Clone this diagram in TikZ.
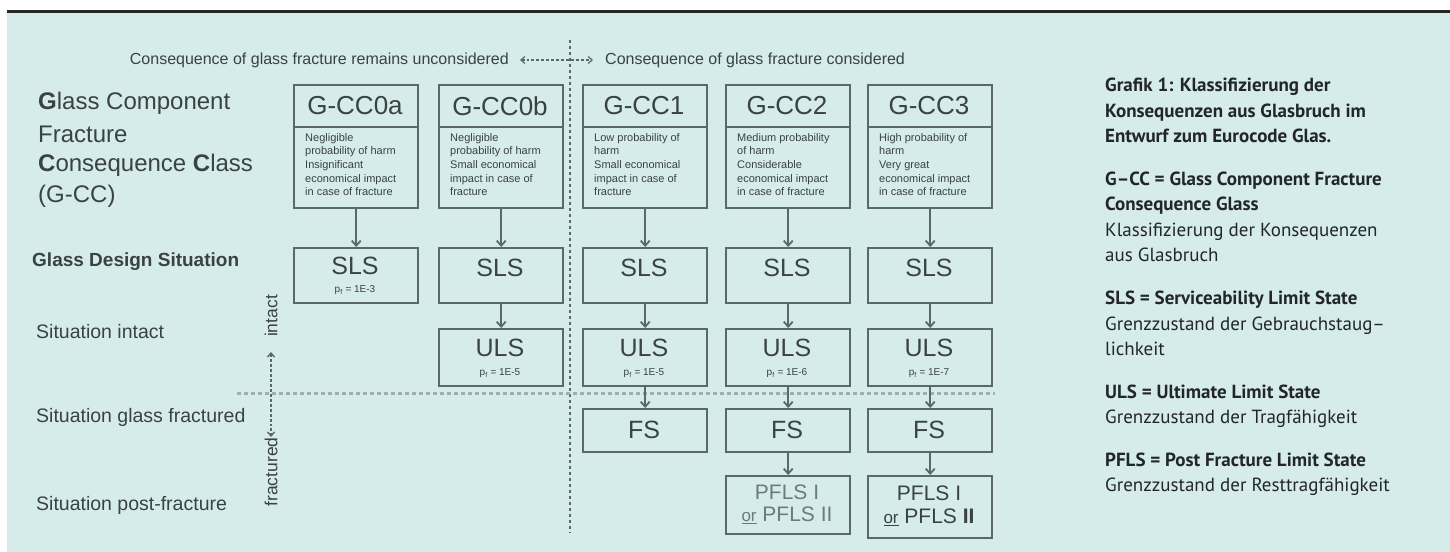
\documentclass[tikz,border=0pt]{standalone}
\usepackage{fontspec}
\setmainfont{Liberation Sans}
\newfontfamily\rtfont{PT Sans}
\usetikzlibrary{arrows.meta}
\definecolor{bg}{RGB}{214,236,234}
\definecolor{boxc}{RGB}{92,104,104}
\definecolor{pflc}{RGB}{110,122,122}
\definecolor{txt}{RGB}{58,66,66}
\definecolor{dotc}{RGB}{160,174,173}
\definecolor{rtxt}{RGB}{35,38,40}
\newcommand{\myfs}[1]{\fontsize{#1bp}{1.2\dimexpr #1bp\relax}\selectfont}
\begin{document}
\begin{tikzpicture}[x=1bp,y=-1bp,
  box/.style={draw=boxc, line width=2.4bp, inner sep=0pt, anchor=north west, minimum width=124bp},
  arr/.style={draw=boxc, line width=1.8bp, -{Straight Barb[length=5bp,width=9bp]}},
  title/.style={font=\myfs{26}, text=txt, inner sep=0pt},
  big/.style={font=\myfs{25}, text=txt, inner sep=0pt},
  sub/.style={font=\myfs{10}, text=txt, inner sep=0pt},
  pfl/.style={font=\myfs{21}, text=pflc, inner sep=0pt},
  desc/.style={font={\fontsize{11bp}{13.7bp}\selectfont}, text=txt, align=left, anchor=north west, inner sep=0pt},
  lab/.style={font=\myfs{19.5}, text=txt, anchor=west, inner sep=0pt},
  biglab/.style={font=\myfs{24}, text=txt, anchor=west, inner sep=0pt},
  head/.style={font=\myfs{16}, text=txt, inner sep=0pt},
  vlab/.style={font=\myfs{17.5}, text=txt, inner sep=0pt, rotate=90},
  rt/.style={font=\rtfont\myfs{19}, text=rtxt, anchor=base west, inner sep=0pt},
  rtb/.style={font=\rtfont\bfseries\myfs{19}, text=rtxt, anchor=base west, inner sep=0pt}
]
\useasboundingbox (0,0) rectangle (1450,552);
\fill[white] (0,0) rectangle (1450,552);
\fill[bg] (7,12) rectangle (1450,552);
\draw[line width=3bp, black!85] (7,12) -- (1450,12);

% header
\node[head, anchor=east] (hleft) at (509,60) {Consequence of glass fracture remains unconsidered};
\node[head, anchor=west] (hright) at (605,60) {Consequence of glass fracture considered};
\coordinate (ha) at (520,60);
\coordinate (hb) at (593,60);
\draw[densely dashed, line width=1.2bp, boxc, {Straight Barb[length=4bp,width=7bp]}-{Straight Barb[length=4bp,width=7bp]}] (ha) -- (hb);

% dotted separators
\coordinate (vt) at (570,40);
\coordinate (vb) at (570,533);
\draw[boxc, line width=1.6bp, dash pattern=on 3bp off 3bp] (vt) -- (vb);
\coordinate (hl) at (237,393);
\coordinate (hr) at (995,393);
\draw[dotc, line width=3bp, dash pattern=on 4bp off 3bp] (hl) -- (hr);

% left labels
\node[biglab] (l1) at (38,103) {\textbf{G}lass Component};
\node[biglab] (l2) at (38,134) {Fracture};
\node[biglab] (l3) at (38,165) {\textbf{C}onsequence \textbf{C}lass};
\node[biglab] (l4) at (38,196) {(G-CC)};
\node[lab, font=\bfseries\myfs{19}] (l5) at (32,262) {Glass Design Situation};
\node[lab] (l6) at (36,332) {Situation intact};
\node[lab] (l7) at (36,417) {Situation glass fractured};
\node[lab] (l8) at (36,505) {Situation post-fracture};

% intact / fractured
\node[vlab] (vi) at (271,316) {intact};
\node[vlab] (vf) at (271,472) {fractured};
\coordinate (va) at (271,352);
\coordinate (vc) at (271,437);
\draw[densely dashed, line width=1.4bp, boxc, {Straight Barb[length=4bp,width=7bp]}-{Straight Barb[length=4bp,width=7bp]}] (va) -- (vc);

% G-CC boxes
\foreach \L/\C/\n in {293/355/0,438/500/1,582/644/2,725/787/3,867/929/4}{
  \node[box, minimum height=123bp] (g\n) at (\L,84) {};
  \draw[boxc, line width=2.4bp] (\L,127) -- (\L+124,127);
}
\node[title] (t0) at (355,106) {G-CC0a};
\node[title] (t1) at (500,106) {G-CC0b};
\node[title] (t2) at (644,106) {G-CC1};
\node[title] (t3) at (787,106) {G-CC2};
\node[title] (t4) at (929,106) {G-CC3};
\node[desc] (d0) at (305,133) {Negligible\\probability of harm\\Insignificant\\economical impact\\in case of fracture};
\node[desc] (d1) at (450,133) {Negligible\\probability of harm\\Small economical\\impact in case of\\fracture};
\node[desc] (d2) at (594,133) {Low probability of\\harm\\Small economical\\impact in case of\\fracture};
\node[desc] (d3) at (737,133) {Medium probability\\of harm\\Considerable\\economical impact\\in case of fracture};
\node[desc] (d4) at (879,133) {High probability of\\harm\\Very great\\economical impact\\in case of fracture};

% SLS
\foreach \L/\n in {293/0,438/1,582/2,725/3,867/4}{
  \node[box, minimum height=55bp] (s\n) at (\L,247) {};
}
\node[big] (st0) at (355,266) {SLS};
\node[sub] (ss0) at (355,290) {p\textsubscript{f} = 1E-3};
\node[big] (st1) at (500,268) {SLS};
\node[big] (st2) at (644,268) {SLS};
\node[big] (st3) at (787,268) {SLS};
\node[big] (st4) at (929,268) {SLS};

% ULS
\foreach \L/\n in {438/1,582/2,725/3,867/4}{
  \node[box, minimum height=57bp] (u\n) at (\L,328) {};
}
\node[big] (ut1) at (500,348) {ULS};
\node[big] (ut2) at (644,348) {ULS};
\node[big] (ut3) at (787,348) {ULS};
\node[big] (ut4) at (929,348) {ULS};
\node[sub] (us1) at (500,373) {p\textsubscript{f} = 1E-5};
\node[sub] (us2) at (644,373) {p\textsubscript{f} = 1E-5};
\node[sub] (us3) at (787,373) {p\textsubscript{f} = 1E-6};
\node[sub] (us4) at (929,373) {p\textsubscript{f} = 1E-7};

% FS
\foreach \L/\n in {582/2,725/3,867/4}{
  \node[box, minimum height=43bp] (f\n) at (\L,408) {};
}
\node[big] (ft2) at (644,430) {FS};
\node[big] (ft3) at (787,430) {FS};
\node[big] (ft4) at (929,430) {FS};

% PFLS
\node[box, minimum height=58bp] (p3) at (725,475) {};
\node[box, minimum height=62bp] (p4) at (867,475) {};
\node[pfl] (pa3) at (787,492) {PFLS I};
\node[pfl] (pb3) at (787,515) {{\myfs{17}\underline{or}} PFLS II};
\node[pfl, text=txt] (pa4) at (929,493) {PFLS I};
\node[pfl, text=txt] (pb4) at (929,517) {{\myfs{17}\underline{or}} PFLS \textbf{II}};

% arrows
\foreach \n in {0,1,2,3,4}{ \draw[arr] (g\n.south) -- (s\n.north); }
\foreach \n in {1,2,3,4}{ \draw[arr] (s\n.south) -- (u\n.north); }
\foreach \n in {2,3,4}{ \draw[arr] (u\n.south) -- (f\n.north); }
\foreach \n in {3,4}{ \draw[arr] (f\n.south) -- (p\n.north); }

% right text
\node[rtb] (r1) at (1105,92) {Grafik 1: Klassifizierung der};
\node[rtb] (r2) at (1105,117.5) {Konsequenzen aus Glasbruch im};
\node[rtb] (r3) at (1105,143) {Entwurf zum Eurocode Glas.};
\node[rtb] (r4) at (1105,185.5) {G–CC = Glass Component Fracture};
\node[rtb] (r5) at (1105,211) {Consequence Glass};
\node[rt] (r6) at (1105,236.5) {Klassifizierung der Konsequenzen};
\node[rt] (r7) at (1105,262) {aus Glasbruch};
\node[rtb] (r8) at (1105,304.5) {SLS = Serviceability Limit State};
\node[rt] (r9) at (1105,330) {Grenzzustand der Gebrauchstaug–};
\node[rt] (r10) at (1105,355.5) {lichkeit};
\node[rtb] (r11) at (1105,398) {ULS = Ultimate Limit State};
\node[rt] (r12) at (1105,423.5) {Grenzzustand der Tragfähigkeit};
\node[rtb] (r13) at (1105,466) {PFLS = Post Fracture Limit State};
\node[rt] (r14) at (1105,491.5) {Grenzzustand der Resttragfähigkeit};
\end{tikzpicture}
\end{document}
